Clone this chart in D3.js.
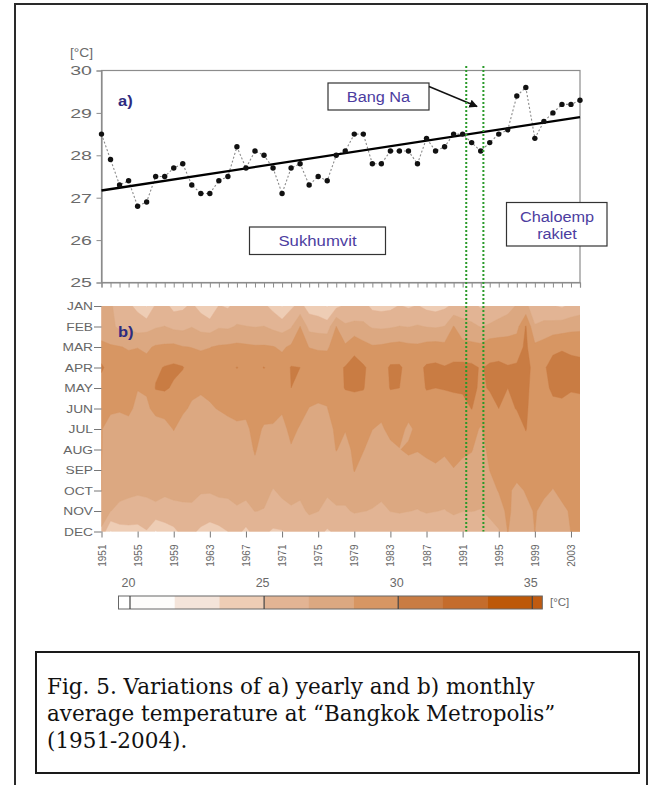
<!DOCTYPE html>
<html><head><meta charset="utf-8">
<script src="https://cdn.jsdelivr.net/npm/d3@7"></script>
<style>body{margin:0;background:#fff}svg{display:block}</style>
</head><body>
<svg id="c" width="660" height="785"></svg>
<script>
// ---------------- DATA ----------------
const years = [1951,1952,1953,1954,1955,1956,1957,1958,1959,1960,1961,1962,1963,1964,1965,1966,1967,1968,1969,1970,
  1971,1972,1973,1974,1975,1976,1977,1978,1979,1980,1981,1982,1983,1984,1985,1986,1987,1988,1989,1990,
  1991,1992,1993,1994,1995,1996,1997,1998,1999,2000,2001,2002,2003,2004];
const annualTemp = [28.5,27.9,27.3,27.4,26.8,26.9,27.5,27.5,27.7,27.8,27.3,27.1,27.1,27.4,27.5,28.2,27.7,28.1,28.0,27.7,
  27.1,27.7,27.8,27.3,27.5,27.4,28.0,28.1,28.5,28.5,27.8,27.8,28.1,28.1,28.1,27.8,28.4,28.1,28.2,28.5,
  28.5,28.3,28.1,28.3,28.5,28.6,29.4,29.6,28.4,28.8,29.0,29.2,29.2,29.3];
const trendYears = [1951, 2004];
const trendValues = [27.17, 28.9];
const stationChanges = [1991.4, 1993.3];
const yTicks = [25,26,27,28,29,30];
const yearTicks = [1951,1955,1959,1963,1967,1971,1975,1979,1983,1987,1991,1995,1999,2003];
const months = ["JAN","FEB","MAR","APR","MAY","JUN","JUL","AUG","SEP","OCT","NOV","DEC"];

const tJan = [26.9,26.9,25.9,25.3,24.6,23.2,25.3,25.5,24.5,24.7,25.3,24.4,23.4,25.1,24.8,25.6,25.4,25.3,25.3,24.5,23.2,24.7,25.5,24.3,24.1,23.2,24.6,25.3,25.5,25.6,24.6,24.5,24.6,25.1,24.8,25.1,24.6,24.4,24.7,25.3,25.7,25.5,24.8,25.3,25.8,26.1,26.8,27.1,25.5,25.6,25.1,24.8,25.3,25.7];
const tFeb = [27.5,27.1,26.3,26.4,25.9,26.1,26.5,26.7,26.3,26.2,26.6,26.1,25.9,26.5,26.4,26.8,26.7,26.6,26.7,26.3,26.0,26.5,28.35,26.1,25.9,25.8,28.35,26.9,27.1,27.0,26.5,26.4,26.5,26.7,26.6,26.8,26.6,26.5,26.7,28.4,27.3,27.0,26.6,26.9,27.2,27.5,27.8,30.1,26.8,27.1,27.3,27.5,27.8,27.9];
const tMar = [28.7,28.5,28.4,28.2,28.3,28.1,28.5,28.6,28.7,28.4,28.3,28.2,28.3,28.5,28.6,28.7,28.6,28.5,28.5,28.4,28.1,28.6,28.9,28.3,28.2,28.2,28.8,28.6,29.7,28.9,28.5,28.6,28.8,28.9,28.7,28.6,28.9,29.0,28.8,29.2,28.9,28.8,28.7,29.3,29.3,29.2,29.3,30.3,28.7,29.1,29.8,29.9,29.8,29.7];
const tApr = [30.3,29.2,29.1,29.0,28.9,28.8,29.7,30.1,30.3,30.1,29.1,28.9,29.0,29.2,29.3,30.05,29.5,29.6,30.05,29.3,29.0,30.1,30.0,29.1,29.0,28.9,29.6,30.1,30.4,30.2,29.5,29.3,30.2,30.2,29.5,29.6,30.2,30.3,30.1,30.3,30.4,30.3,29.9,30.2,30.3,30.1,30.2,30.5,29.5,29.9,30.3,30.4,30.3,30.3];
const tMay = [29.1,28.9,28.7,28.9,28.4,28.5,30.1,30.2,29.8,29.2,28.7,28.5,28.6,28.8,28.9,29.1,29.2,29.3,29.1,29.0,28.7,30.0,29.3,28.8,28.7,28.6,29.3,30.1,30.2,30.1,29.1,29.0,30.1,30.0,29.2,29.3,30.1,30.0,30.1,30.2,30.3,30.3,29.8,30.1,30.2,30.0,30.2,30.4,29.3,29.7,30.2,30.2,30.1,30.2];
const tJun = [28.5,28.6,28.5,28.7,27.9,28.1,28.7,28.9,28.9,28.6,28.1,28.0,28.2,28.4,28.6,28.7,28.6,28.9,28.8,28.7,28.5,29.1,28.8,28.3,28.2,28.3,29.0,28.9,29.2,29.1,28.7,28.6,28.9,29.1,28.8,29.0,29.2,29.2,29.1,29.3,29.3,30.05,29.1,29.5,30.0,29.5,30.1,30.3,29.0,29.2,29.7,29.8,29.6,29.5];
const tJul = [28.4,27.7,27.6,27.7,27.5,27.4,27.7,27.8,28.4,27.7,27.5,27.4,27.5,27.7,27.9,28.1,28.1,28.7,28.2,28.2,27.9,28.7,28.2,27.6,27.6,27.6,28.7,28.4,28.8,28.6,28.35,28.2,28.6,28.7,28.1,28.6,28.8,28.8,28.7,28.9,28.8,28.8,28.2,29.0,29.1,29.0,28.9,30.1,28.7,28.8,28.9,29.0,29.1,29.0];
const tAug = [28.4,27.5,27.4,27.4,27.3,27.2,27.4,27.4,27.6,27.4,27.2,27.2,27.2,27.3,27.5,27.6,27.6,28.5,27.6,27.5,27.4,28.2,27.5,27.3,27.3,27.3,28.4,27.9,28.6,28.4,27.8,27.6,28.1,28.3,28.5,28.4,28.5,28.6,28.5,28.6,28.5,28.4,27.8,28.7,28.8,28.9,29.0,29.1,28.5,28.6,28.7,28.8,28.8,28.9];
const tSep = [28.35,27.3,27.2,27.2,27.1,27.0,27.2,27.2,27.2,27.1,27.0,27.0,27.0,27.1,27.2,27.3,27.3,27.9,27.3,27.2,27.1,27.4,27.2,27.1,27.1,27.0,27.6,27.4,28.4,27.8,27.3,27.3,27.5,27.7,27.9,27.8,28.1,28.2,28.0,28.3,28.1,27.9,27.5,28.35,28.6,28.7,28.7,28.8,28.4,28.5,28.6,28.6,28.7,28.7];
const tOct = [28.35,27.2,27.1,27.0,26.9,26.9,27.1,27.0,27.0,27.0,26.9,26.8,26.8,26.9,26.9,27.1,27.0,27.3,27.1,26.6,26.9,27.1,27.0,26.9,26.9,26.9,27.1,27.1,27.7,27.3,27.1,27.1,27.2,27.3,27.4,27.3,27.5,27.4,27.3,27.6,27.4,27.3,27.2,27.9,28.4,28.5,28.1,28.4,28.5,28.5,28.3,28.5,28.6,28.6];
const tNov = [27.9,26.7,26.3,26.1,25.9,26.2,26.3,25.9,26.3,26.4,26.5,26.0,25.8,26.2,26.3,26.5,26.3,26.7,26.6,26.1,26.3,26.5,26.3,26.9,26.7,26.2,26.5,26.5,26.8,26.7,26.6,26.3,26.7,26.8,26.7,26.6,26.8,26.7,26.6,26.9,26.7,26.7,26.6,27.1,27.8,28.6,27.8,28.1,28.4,28.1,27.9,28.2,28.4,28.4];
const tDec = [26.3,23.2,24.3,24.5,24.5,24.9,23.2,24.3,24.6,25.5,25.3,24.7,24.3,24.5,25.0,25.5,24.6,25.6,25.3,24.8,24.9,25.3,25.2,25.7,25.5,24.8,25.3,25.4,25.6,25.5,25.3,25.1,25.5,25.6,25.5,25.3,25.6,25.5,25.3,25.7,25.5,25.4,25.3,25.9,26.5,28.4,27.3,27.7,28.35,27.6,27.5,27.9,28.35,28.4];

const levelBreaks = [20, 21.667, 23.333, 25, 26.667, 28.333, 30, 31.667, 33.333, 35];
const levelColors = ["#fdfcfb","#f4e4da","#eecdb5","#e2b494","#dca881","#d79663","#c97c43","#c46c2c","#bd5808"];
const underColor = "#ffffff", overColor = "#c05a10";
const colorbarLabels = [20,25,30,35];

// ---------------- DRAW ----------------
const svg = d3.select("#c");
const SANS = "'Liberation Sans', Arial, sans-serif";
const TXT = "#5a5a5a";

function label(g, x, y, txt, o = {}) {
  return g.append("text")
    .attr("transform", `translate(${x},${y}) scale(${o.sx || 1},1)`)
    .attr("text-anchor", o.anchor || "start")
    .style("font-family", o.family || SANS)
    .style("font-size", (o.size || 12) + "px")
    .style("font-weight", o.weight || "normal")
    .attr("fill", o.fill || TXT)
    .text(txt);
}

// frame
svg.append("rect").attr("x", 15).attr("y", 4).attr("width", 632).attr("height", 800)
  .attr("fill", "none").attr("stroke", "#2a2a2a").attr("stroke-width", 2);

const x = d3.scaleLinear().domain([1951, 2004]).range([101.5, 580]);
const y = d3.scaleLinear().domain([25, 30]).range([282.5, 70.5]);

// ---- panel a
const ga = svg.append("g");
ga.append("rect").attr("x", x(1951)).attr("y", y(30)).attr("width", x(2004) - x(1951)).attr("height", y(25) - y(30))
  .attr("fill", "#fff").attr("stroke", "#8c8c8c").attr("stroke-width", 1.2);

const xa = ga.append("g").attr("transform", `translate(0,${y(25)})`)
  .call(d3.axisBottom(x).tickValues(years).tickSize(5).tickFormat(""));
xa.select(".domain").attr("stroke", "#8c8c8c").attr("stroke-width", 1.2);
xa.selectAll(".tick line").attr("stroke", "#8c8c8c");

const ya = ga.append("g").attr("transform", `translate(${x(1951)},0)`)
  .call(d3.axisLeft(y).tickValues(yTicks).tickSize(5).tickFormat(d3.format("d")));
ya.select(".domain").attr("stroke", "#8c8c8c").attr("stroke-width", 1.2);
ya.selectAll(".tick line").attr("stroke", "#8c8c8c");
ya.selectAll(".tick text").attr("x", -9.5 / 1.45).attr("transform", "scale(1.45,1)")
  .style("font-family", SANS).style("font-size", "13.5px").attr("fill", "#6a6a6a");

label(ga, 70, 57, "[°C]", {size: 12, sx: 1.15, fill: "#6a6a6a"});

const pts = years.map((yr, i) => ({yr, v: annualTemp[i]}));
ga.append("path").datum(pts)
  .attr("d", d3.line().x(d => x(d.yr)).y(d => y(d.v)))
  .attr("fill", "none").attr("stroke", "#8a8a8a").attr("stroke-width", 1.1).attr("stroke-dasharray", "2,2");
ga.append("path").datum(trendYears.map((yr, i) => ({yr, v: trendValues[i]})))
  .attr("d", d3.line().x(d => x(d.yr)).y(d => y(d.v)))
  .attr("stroke", "#000").attr("stroke-width", 2.3);
ga.selectAll("circle.pt").data(pts).join("circle").attr("class", "pt")
  .attr("cx", d => x(d.yr)).attr("cy", d => y(d.v)).attr("r", 2.7).attr("fill", "#111");

label(ga, 118, 106, "a)", {size: 15, weight: "bold", fill: "#2e2a80", sx: 1.1});

// annotation boxes
const ANN = "#4c3d9f";
function box(x0, y0, w, h) {
  ga.append("rect").attr("x", x0).attr("y", y0).attr("width", w).attr("height", h)
    .attr("fill", "#fff").attr("stroke", "#333").attr("stroke-width", 1.2);
}
box(328, 83, 101, 27);
label(ga, 378.5, 101.5, "Bang Na", {size: 15.5, anchor: "middle", fill: ANN, sx: 1.05});
box(249.5, 227, 136, 27.5);
label(ga, 317.5, 246, "Sukhumvit", {size: 15.5, anchor: "middle", fill: ANN, sx: 1.08});
box(506.5, 202.5, 100.5, 43.5);
label(ga, 557, 222, "Chaloemp", {size: 15.5, anchor: "middle", fill: ANN, sx: 1.05});
label(ga, 557, 239, "rakiet", {size: 15.5, anchor: "middle", fill: ANN, sx: 1.05});

const defs = svg.append("defs");
defs.append("marker").attr("id", "ah").attr("viewBox", "0 0 10 10").attr("refX", 9).attr("refY", 5)
  .attr("markerWidth", 6).attr("markerHeight", 6).attr("orient", "auto")
  .append("path").attr("d", "M0,0L10,5L0,10z").attr("fill", "#111");
ga.append("line").attr("x1", 429).attr("y1", 86.5).attr("x2", 477).attr("y2", 106.5)
  .attr("stroke", "#111").attr("stroke-width", 1.4).attr("marker-end", "url(#ah)");

// ---- panel b (contour map)
const gb = svg.append("g");
const hTop = 306, hBot = 531.5;
const ym = d3.scaleLinear().domain([0, 11]).range([hTop, hBot]);
const monthScale = d3.scalePoint().domain(months).range([hTop, hBot]);

defs.append("clipPath").attr("id", "hclip").append("rect")
  .attr("x", x(1951)).attr("y", hTop).attr("width", x(2004) - x(1951)).attr("height", hBot - hTop);

const rows = [tJan, tFeb, tMar, tApr, tMay, tJun, tJul, tAug, tSep, tOct, tNov, tDec];
const grid = [].concat(...rows);
const nx = years.length, ny = months.length;
const contours = d3.contours().size([nx, ny]).thresholds(levelBreaks)(grid);
const proj = d3.geoTransform({
  point: function(px, py) { this.stream.point(x(years[0] + px - 0.5), ym(py - 0.5)); }
});
const gpath = d3.geoPath(proj);
const colorOf = v => { const i = levelBreaks.indexOf(v); return i < levelColors.length ? levelColors[i] : overColor; };

const hm = gb.append("g").attr("clip-path", "url(#hclip)");
hm.append("rect").attr("x", x(1951)).attr("y", hTop).attr("width", x(2004) - x(1951)).attr("height", hBot - hTop)
  .attr("fill", underColor);
hm.selectAll("path").data(contours).join("path")
  .attr("d", gpath).attr("fill", d => colorOf(d.value)).attr("stroke", d => colorOf(d.value)).attr("stroke-width", 0.4);

const ma = gb.append("g").attr("transform", `translate(${x(1951)},0)`)
  .call(d3.axisLeft(monthScale).tickSize(7.5).tickPadding(1));
ma.select(".domain").remove();
ma.selectAll(".tick line").attr("stroke", "#777");
ma.selectAll(".tick text").attr("x", -8.5 / 1.25).attr("transform", "scale(1.25,1)")
  .style("font-family", SANS).style("font-size", "11px").attr("fill", "#666");

const ba = gb.append("g").attr("transform", `translate(0,${hBot})`)
  .call(d3.axisBottom(x).tickValues(yearTicks).tickSize(6).tickFormat(d3.format("d")));
ba.select(".domain").remove();
ba.selectAll(".tick line").attr("stroke", "#777");
ba.selectAll(".tick text").attr("transform", "rotate(-90)").attr("x", -13).attr("y", 0).attr("dy", "0.35em")
  .style("text-anchor", "end").style("font-family", SANS).style("font-size", "10px").attr("fill", "#666");

label(gb, 118, 337, "b)", {size: 15, weight: "bold", fill: "#2e2a80", sx: 1.1});

// station-change lines
svg.append("g").selectAll("line").data(stationChanges).join("line")
  .attr("x1", d => x(d)).attr("x2", d => x(d)).attr("y1", 66).attr("y2", hBot)
  .attr("stroke", "#2a9a2a").attr("stroke-width", 2).attr("stroke-dasharray", "2,2");

// ---- colorbar
const cb = d3.scaleLinear().domain([20, 35]).range([130, 532.3]);
const cbY = 596, cbH = 13;
const gc = svg.append("g");
const bins = levelColors.map((c, i) => ({a: levelBreaks[i], b: levelBreaks[i + 1], c}));
gc.append("rect").attr("x", 118.5).attr("y", cbY).attr("width", cb(20) - 118.5).attr("height", cbH).attr("fill", underColor);
gc.selectAll("rect.bin").data(bins).join("rect").attr("class", "bin")
  .attr("x", d => cb(d.a)).attr("y", cbY).attr("width", d => cb(d.b) - cb(d.a) + 0.3).attr("height", cbH).attr("fill", d => d.c);
gc.append("rect").attr("x", cb(35)).attr("y", cbY).attr("width", 10).attr("height", cbH).attr("fill", overColor);
gc.append("rect").attr("x", 118.5).attr("y", cbY).attr("width", cb(35) + 10 - 118.5).attr("height", cbH)
  .attr("fill", "none").attr("stroke", "#666").attr("stroke-width", 1);
gc.selectAll("line.maj").data(colorbarLabels).join("line").attr("class", "maj")
  .attr("x1", d => cb(d)).attr("x2", d => cb(d)).attr("y1", cbY).attr("y2", cbY + cbH)
  .attr("stroke", "#444").attr("stroke-width", 1.2);
colorbarLabels.forEach(v => label(gc, cb(v) - 1.5, 587, String(v), {size: 12.5, anchor: "middle", fill: "#6a6a6a"}));
label(gc, 550, 606, "[°C]", {size: 11.5, fill: "#6a6a6a"});

// ---- caption
const gcap = svg.append("g");
gcap.append("rect").attr("x", 36).attr("y", 652).attr("width", 603).attr("height", 121)
  .attr("fill", "#fff").attr("stroke", "#1a1a1a").attr("stroke-width", 2);
const capLines = ["Fig. 5. Variations of a) yearly and b) monthly",
  "average temperature at \u201cBangkok Metropolis\u201d",
  "(1951-2004)."];
capLines.forEach((t, i) => label(gcap, 47, 694 + i * 27, t, {size: 21.5, family: "'DejaVu Serif', serif", fill: "#111"}));
</script>
</body></html>
